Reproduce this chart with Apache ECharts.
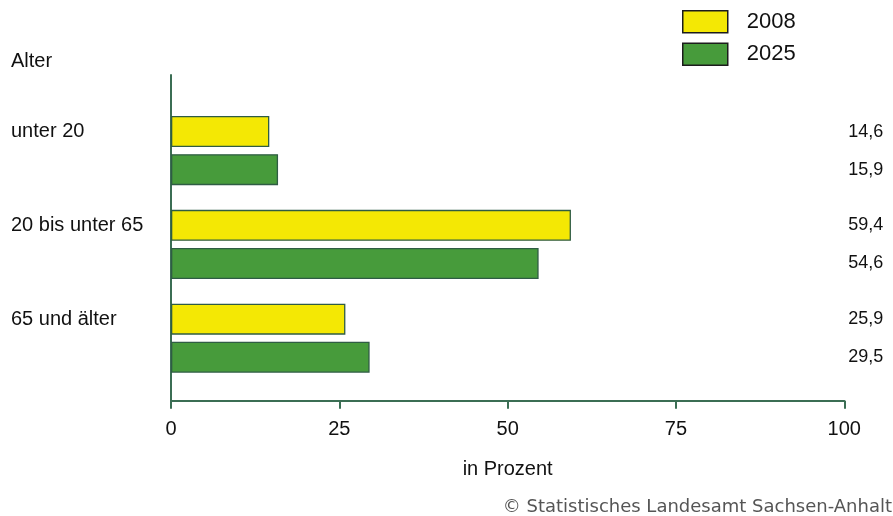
<!DOCTYPE html>
<html>
<head>
<meta charset="utf-8">
<script src="https://cdn.jsdelivr.net/npm/echarts@6/dist/echarts.min.js"></script>
<style>
  html, body { margin: 0; padding: 0; background: #fff; }
  #chart { width: 893px; height: 516px; }
</style>
</head>
<body>
<div id="chart"></div>
<script>
// Altersgruppen und Anteile an der Bevölkerung (in Prozent)
const categories = ['unter 20', '20 bis unter 65', '65 und älter'];
const years = ['2008', '2025'];
const values2008 = [14.6, 59.4, 25.9];
const values2025 = [15.9, 54.6, 29.5];
const xTicks = [0, 25, 50, 75, 100];

const FONT = '"Liberation Sans", Arial, sans-serif';
const AXIS = '#3b6e54';
const BORDER = '#2f5c44';
const YELLOW = '#f4e804';
const GREEN = '#479b3b';

const fmt = v => v.toFixed(1).replace('.', ',');
const xMin = xTicks[0], xMax = xTicks[xTicks.length - 1];

const chart = echarts.init(document.getElementById('chart'), null, { renderer: 'canvas' });

chart.setOption({
  animation: false,
  backgroundColor: '#ffffff',
  textStyle: { fontFamily: FONT, color: '#111' },
  title: [
    { text: 'Alter', left: 11, top: 51, padding: 0,
      textStyle: { fontFamily: FONT, fontSize: 20, fontWeight: 'normal', color: '#111' } },
    { text: '© Statistisches Landesamt Sachsen-Anhalt', right: 1, top: 498, padding: 0,
      textStyle: { fontFamily: '"DejaVu Sans", sans-serif', fontSize: 18, fontWeight: 'normal', color: '#555' } }
  ],
  legend: {
    data: years,
    orient: 'vertical',
    left: 682, top: 10, padding: 0,
    itemWidth: 45, itemHeight: 22, itemGap: 9,
    icon: 'rect',
    itemStyle: { borderColor: '#1c1c1c', borderWidth: 1.5 },
    textStyle: { fontFamily: FONT, fontSize: 22, color: '#111', padding: [0, 0, 0, 14] }
  },
  grid: [
    // frame with the axes
    { left: 171, width: 673.3, top: 75, height: 325.7 },
    // area holding the bars
    { left: 171, width: 673.3, top: 103.7, height: 281.4 }
  ],
  xAxis: [
    {
      gridIndex: 0, type: 'value', min: xMin, max: xMax, interval: 25,
      axisLine: { show: true, lineStyle: { color: AXIS, width: 2 } },
      axisTick: { show: true, length: 8, lineStyle: { color: AXIS, width: 2 } },
      splitLine: { show: false },
      axisLabel: { fontFamily: FONT, fontSize: 20, color: '#111', margin: 19 },
      name: 'in Prozent', nameLocation: 'middle', nameGap: 59,
      nameTextStyle: { fontFamily: FONT, fontSize: 20, color: '#111' }
    },
    { gridIndex: 1, type: 'value', min: xMin, max: xMax, show: false }
  ],
  yAxis: [
    {
      gridIndex: 0, type: 'value', min: 0, max: 1,
      axisLine: { show: true, lineStyle: { color: AXIS, width: 2 } },
      axisTick: { show: false }, axisLabel: { show: false }, splitLine: { show: false }
    },
    {
      gridIndex: 1, type: 'category', inverse: true, data: categories,
      axisLine: { show: false }, axisTick: { show: false },
      axisLabel: {
        fontFamily: FONT, fontSize: 20, color: '#111',
        align: 'left', margin: 160, lineHeight: 38,
        // second (blank) line lifts the label to the height of the first bar
        formatter: v => v + '\n '
      }
    }
  ],
  series: [
    {
      name: years[0], type: 'bar', stack: 'y', xAxisIndex: 1, yAxisIndex: 1,
      data: values2008, barWidth: 31, barGap: '23%',
      itemStyle: { color: YELLOW, borderColor: BORDER, borderWidth: 1.3 }
    },
    {
      name: years[1], type: 'bar', stack: 'g', xAxisIndex: 1, yAxisIndex: 1,
      data: values2025, barWidth: 31, barGap: '23%',
      itemStyle: { color: GREEN, borderColor: BORDER, borderWidth: 1.3 }
    },
    // transparent remainder up to 100 carries the value label at the right edge
    {
      name: 'rest2008', type: 'bar', stack: 'y', xAxisIndex: 1, yAxisIndex: 1, silent: true,
      data: values2008.map(v => xMax - v), barWidth: 31,
      itemStyle: { color: 'rgba(0,0,0,0)' },
      label: { show: true, position: 'right', distance: 4, fontFamily: FONT, fontSize: 18, color: '#111',
        formatter: p => fmt(values2008[p.dataIndex]) }
    },
    {
      name: 'rest2025', type: 'bar', stack: 'g', xAxisIndex: 1, yAxisIndex: 1, silent: true,
      data: values2025.map(v => xMax - v), barWidth: 31,
      itemStyle: { color: 'rgba(0,0,0,0)' },
      label: { show: true, position: 'right', distance: 4, fontFamily: FONT, fontSize: 18, color: '#111',
        formatter: p => fmt(values2025[p.dataIndex]) }
    }
  ]
});
</script>
</body>
</html>
